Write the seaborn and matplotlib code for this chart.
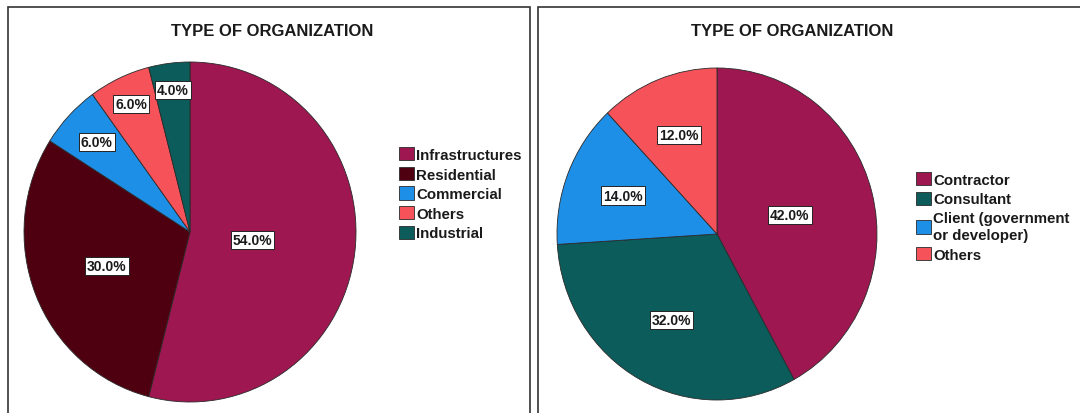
import numpy as np
import matplotlib
matplotlib.use('Agg')
import matplotlib.pyplot as plt
from matplotlib.patches import Rectangle
import seaborn as sns

# data
left_labels = ["Infrastructures", "Residential", "Commercial", "Others", "Industrial"]
left_values = [54.0, 30.0, 6.0, 6.0, 4.0]
right_labels = ["Contractor", "Consultant", "Client (government\nor developer)", "Others"]
right_values = [42.0, 32.0, 14.0, 12.0]
title_text = "TYPE OF ORGANIZATION"

# colours (SPSS-like)
MAGENTA = "#9e1750"
MAROON = "#4f0010"
BLUE = "#1e8fe6"
SALMON = "#f5525a"
TEAL = "#0b5c5a"
left_colors = sns.color_palette([MAGENTA, MAROON, BLUE, SALMON, TEAL])
right_colors = sns.color_palette([MAGENTA, TEAL, BLUE, SALMON])

# radial position of each percentage label (fraction of radius)
left_label_r = [0.38, 0.54, 0.77, 0.83, 0.84]
right_label_r = [0.47, 0.59, 0.63, 0.64]

sns.set_theme(style="white")
plt.rcParams['font.family'] = ['Liberation Sans', 'DejaVu Sans']

W, H = 1080, 414
fig = plt.figure(figsize=(W / 100, H / 100), dpi=100)


def px_axes(cx, cy, rx, ry):
    """Axes placed by pixel centre/radii (y measured from top)."""
    return fig.add_axes([(cx - rx) / W, (H - cy - ry) / H, 2 * rx / W, 2 * ry / H])


def draw_pie(ax, values, colors, label_r):
    wedges, _ = ax.pie(values, colors=colors, startangle=90, counterclock=False,
                       wedgeprops=dict(edgecolor="#2a2a2a", linewidth=0.6))
    for w, v, r in zip(wedges, values, label_r):
        mid = np.deg2rad((w.theta1 + w.theta2) / 2)
        ax.text(r * np.cos(mid), r * np.sin(mid), f"{v:.1f}%", ha="center", va="center",
                fontsize=10, fontweight="bold", color="#1a1a1a",
                bbox=dict(boxstyle="square,pad=0.15", facecolor="white",
                          edgecolor="#222222", linewidth=0.7))
    ax.set_aspect("auto")
    ax.set_xlim(-1, 1)
    ax.set_ylim(-1, 1)
    return wedges


# panel frames
fig.patches.append(Rectangle((8 / W, -0.05), 522 / W, 1.05 - 8 / H, transform=fig.transFigure,
                             fill=False, edgecolor="#333333", linewidth=1.2))
fig.patches.append(Rectangle((538 / W, -0.05), 560 / W, 1.05 - 8 / H, transform=fig.transFigure,
                             fill=False, edgecolor="#333333", linewidth=1.2))

legend_kw = dict(bbox_transform=fig.transFigure, frameon=False, borderpad=0, borderaxespad=0,
                 handlelength=1.0, handleheight=1.0, handletextpad=0.15, labelspacing=0.32,
                 prop=dict(size=10.8, weight="bold"))

# left pie
ax1 = px_axes(190, 233, 166, 170)
w1 = draw_pie(ax1, left_values, left_colors, left_label_r)
fig.text(272 / W, 1 - 31 / H, title_text, ha="center", va="center",
         fontsize=12, fontweight="bold", color="#1a1a1a")
leg1 = fig.legend(w1, left_labels, loc="upper left", bbox_to_anchor=(399 / W, 1 - 148 / H), **legend_kw)

# right pie
ax2 = px_axes(717, 235, 160, 166)
w2 = draw_pie(ax2, right_values, right_colors, right_label_r)
fig.text(792 / W, 1 - 31 / H, title_text, ha="center", va="center",
         fontsize=12, fontweight="bold", color="#1a1a1a")
leg2 = fig.legend(w2, right_labels, loc="upper left", bbox_to_anchor=(916 / W, 1 - 173 / H), **legend_kw)

for t in leg1.get_texts() + leg2.get_texts():
    t.set_color("#1a1a1a")
    t.set_linespacing(1.25)

fig.savefig("out.png", dpi=100)
